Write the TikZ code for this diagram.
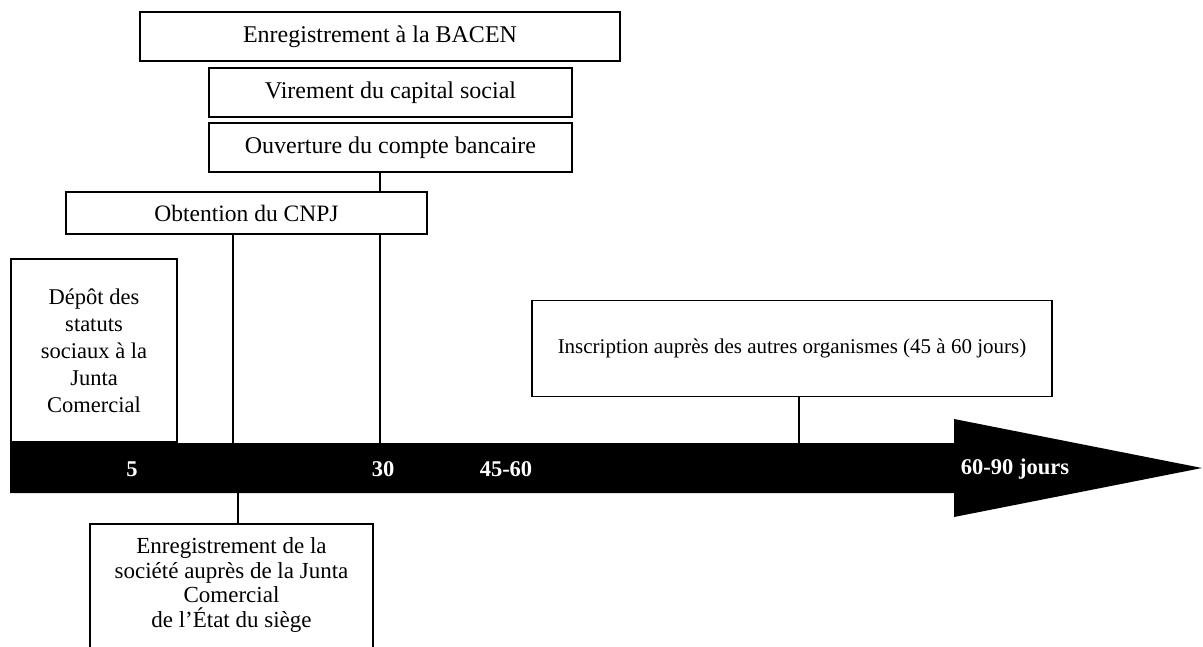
\documentclass[tikz,border=0pt]{standalone}
\usepackage{fontspec}
\setmainfont{Liberation Serif}
\begin{document}
\begin{tikzpicture}[x=1pt,y=-1pt,
  box/.style={draw=black, line width=1.5pt, fill=white, inner sep=0pt, align=center,
    font=\fontsize{24}{28}\selectfont},
  conn/.style={draw=black, line width=1.3pt},
  barlabel/.style={text=white, font=\fontsize{22.5}{26}\selectfont\bfseries, inner sep=0pt}]
\clip (0,0) rectangle (1203,647);
\fill[white] (0,0) rectangle (1203,647);
% timeline arrow
\fill[black] (10,443) -- (954,443) -- (954,419) -- (1202,468) -- (954,517) -- (954,493) -- (10,493) -- cycle;
\coordinate (t1) at (233,443);
\coordinate (t2) at (380,443);
\coordinate (t3) at (799,443);
\coordinate (b1) at (238,493);
\node[barlabel] (l5) at (132,469) {5};
\node[barlabel] (l30) at (383,469) {30};
\node[barlabel] (l45) at (506,469) {45-60};
\node[barlabel] (l60) at (1015,469) {60-90 jours};
% boxes
\node[box, minimum width=480, minimum height=49] (bacen) at (380,36.5) {Enregistrement à la BACEN};
\node[box, minimum width=363, minimum height=49] (vir) at (390.5,92.5) {Virement du capital social};
\node[box, minimum width=363, minimum height=49] (ouv) at (390.5,147.5) {Ouverture du compte bancaire};
\node[box, minimum width=361, minimum height=42, font=\fontsize{23.5}{28}\selectfont] (cnpj) at (246.5,213) {Obtention du CNPJ};
\node[box, minimum width=166, minimum height=183, font=\fontsize{22.5}{27}\selectfont] (depot) at (94,350.5)
  {Dépôt des\\statuts\\sociaux à la\\Junta\\Comercial};
\node[box, minimum width=520, minimum height=96, font=\fontsize{21}{25}\selectfont] (insc) at (792,348.5)
  {Inscription auprès des autres organismes (45 à 60 jours)};
\node[box, anchor=north, minimum width=283, inner ysep=14pt, text depth=40pt,
  font=\fontsize{23}{24.5}\selectfont] (soc) at (231.5,523)
  {Enregistrement de la\\société auprès de la Junta\\Comercial\\de l’État du siège};
% connectors
\draw[conn] (ouv.south -| t2) -- (cnpj.north -| t2);
\draw[conn] (cnpj.south -| t1) -- (t1);
\draw[conn] (cnpj.south -| t2) -- (t2);
\draw[conn] (insc.south -| t3) -- (t3);
\draw[conn] (b1) -- (soc.north -| b1);
\end{tikzpicture}
\end{document}
